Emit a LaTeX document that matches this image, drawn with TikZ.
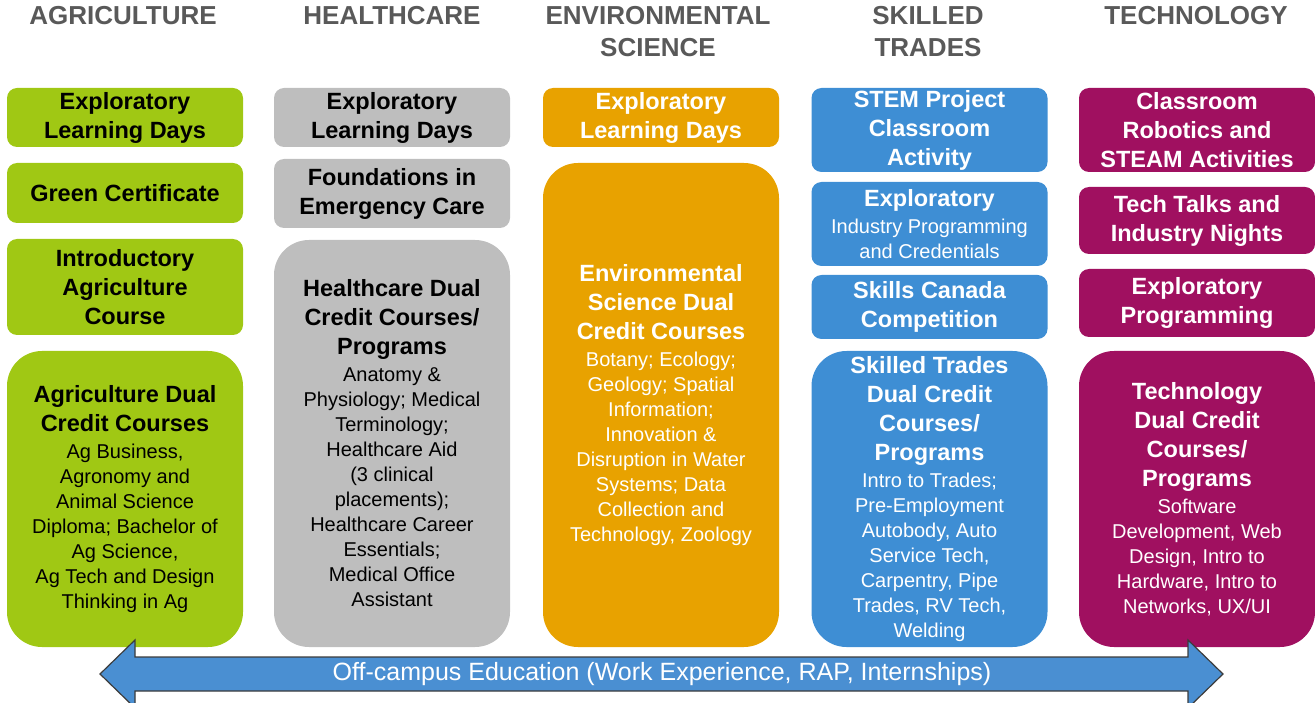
\documentclass[tikz,border=0pt]{standalone}
\usepackage{fontspec}
\setmainfont{Liberation Sans}

\definecolor{agrigreen}{HTML}{A0C814}
\definecolor{healthgrey}{HTML}{BEBEBE}
\definecolor{envorange}{HTML}{E8A200}
\definecolor{tradesblue}{HTML}{3E8ED4}
\definecolor{techpurple}{HTML}{A01060}
\definecolor{headgrey}{HTML}{595959}
\definecolor{arrowblue}{HTML}{4A8FD2}
\definecolor{arrowedge}{HTML}{3C3C3C}

\newcommand{\cardtitle}[1]{{\fontsize{23.5}{29}\selectfont\bfseries #1\par}}
\newcommand{\cardbody}[1]{{\vspace{2pt}\fontsize{20}{25}\selectfont #1\par}}

\tikzset{
	header/.style={anchor=north, inner sep=0pt, align=center, text=headgrey, font=\fontsize{26}{32}\selectfont\bfseries},
	card/.style={rounded corners=10pt, inner xsep=2pt, inner ysep=0pt, text width=232pt, align=flush center, minimum height=#1},
	bigcard/.style={card=#1, rounded corners=35pt},
	agri/.style={fill=agrigreen, text=black},
	health/.style={fill=healthgrey, text=black},
	env/.style={fill=envorange, text=white},
	trades/.style={fill=tradesblue, text=white},
	tech/.style={fill=techpurple, text=white}
}

\begin{document}
\begin{tikzpicture}[x=1pt, y=-1pt]
\useasboundingbox (0,0) rectangle (1315,703);

\foreach \cx/\lbl [count=\i] in {123/AGRICULTURE, 392/HEALTHCARE, 658/{ENVIRONMENTAL\\SCIENCE}, 928/{SKILLED\\TRADES}, 1196/TECHNOLOGY}
{
	\node[header] (head\i) at (\cx, 6) {\lbl};
}

% agriculture
\node[card=59pt, agri] (agri1) at (125, 117.5) {\cardtitle{Exploratory\\Learning Days}};
\node[card=60pt, agri] (agri2) at (125, 193) {\cardtitle{Green Certificate}};
\node[card=96pt, agri] (agri3) at (125, 287) {\cardtitle{Introductory\\Agriculture\\Course}};
\node[bigcard=296pt, agri] (agri4) at (125, 499) {\cardtitle{Agriculture Dual\\Credit Courses}\cardbody{Ag Business,\\Agronomy and\\Animal Science\\Diploma; Bachelor of\\Ag Science,\\Ag Tech and Design\\Thinking in Ag}};

% healthcare
\node[card=59pt, health] (health1) at (392, 117.5) {\cardtitle{Exploratory\\Learning Days}};
\node[card=69pt, health] (health2) at (392, 193.5) {\cardtitle{Foundations in\\Emergency Care}};
\node[bigcard=407pt, health] (health3) at (392, 443.5) {\cardtitle{Healthcare Dual\\Credit Courses/\\Programs}\cardbody{Anatomy \&\\Physiology; Medical\\Terminology;\\Healthcare Aid\\(3 clinical\\placements);\\Healthcare Career\\Essentials;\\Medical Office\\Assistant}};

% environmental science
\node[card=59pt, env] (env1) at (661, 117.5) {\cardtitle{Exploratory\\Learning Days}};
\node[bigcard=484pt, env] (env2) at (661, 405) {\cardtitle{Environmental\\Science Dual\\Credit Courses}\cardbody{Botany; Ecology;\\Geology; Spatial\\Information;\\Innovation \&\\Disruption in Water\\Systems; Data\\Collection and\\Technology, Zoology}};

% skilled trades
\node[card=84pt, trades] (trades1) at (929.5, 130) {\cardtitle{STEM Project\\Classroom\\Activity}};
\node[card=84pt, trades] (trades2) at (929.5, 224) {\cardtitle{Exploratory}\cardbody{Industry Programming\\and Credentials}};
\node[card=64pt, trades] (trades3) at (929.5, 307) {\cardtitle{Skills Canada\\Competition}};
\node[bigcard=296pt, trades] (trades4) at (929.5, 499) {\cardtitle{Skilled Trades\\Dual Credit\\Courses/\\Programs}\cardbody{Intro to Trades;\\Pre-Employment\\Autobody, Auto\\Service Tech,\\Carpentry, Pipe\\Trades, RV Tech,\\Welding}};

% technology
\node[card=84pt, tech] (tech1) at (1197, 130) {\cardtitle{Classroom\\Robotics and\\STEAM Activities}};
\node[card=67pt, tech] (tech2) at (1197, 220.5) {\cardtitle{Tech Talks and\\Industry Nights}};
\node[card=68pt, tech] (tech3) at (1197, 303) {\cardtitle{Exploratory\\Programming}};
\node[bigcard=296pt, tech] (tech4) at (1197, 499) {\cardtitle{Technology\\Dual Credit\\Courses/\\Programs}\cardbody{Software\\Development, Web\\Design, Intro to\\Hardware, Intro to\\Networks, UX/UI}};

\draw[fill=arrowblue, draw=arrowedge, line width=1.2pt] (100,674) -- (135,640) -- (135,657) -- (1188,657) -- (1188,640) -- (1223,674) -- (1188,708) -- (1188,691) -- (135,691) -- (135,708) -- cycle;
\node[text=white, font=\fontsize{25}{30}\selectfont] (offcampus) at (662,674) {Off-campus Education (Work Experience, RAP, Internships)};
\end{tikzpicture}
\end{document}
